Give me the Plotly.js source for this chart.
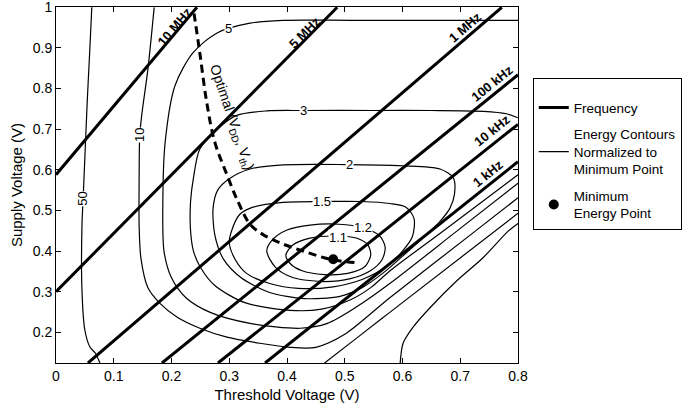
<!DOCTYPE html>
<html>
<head>
<meta charset="utf-8">
<script src="https://cdn.plot.ly/plotly-3.0.1.min.js"></script>
<style>html,body{margin:0;padding:0;background:#fff;}#chart{width:685px;height:408px;}</style>
</head>
<body>
<div id="chart"></div>
<script>
// ---- Axis ticks ----
const xTickVals = [0, 0.1, 0.2, 0.3, 0.4, 0.5, 0.6, 0.7, 0.8];
const xTickText = ["0", "0.1", "0.2", "0.3", "0.4", "0.5", "0.6", "0.7", "0.8"];
const yTickVals = [0.2, 0.3, 0.4, 0.5, 0.6, 0.7, 0.8, 0.9, 1];
const yTickText = ["0.2", "0.3", "0.4", "0.5", "0.6", "0.7", "0.8", "0.9", "1"];

// ---- Constant-frequency lines (Vth, Vdd end points) ----
const freqNames = ["10 MHz", "5 MHz", "1 MHz", "100 kHz", "10 kHz", "1 kHz"];
const freqX = [[0, 0.244], [0, 0.487], [0.0554, 0.772], [0.1835, 0.8], [0.2805, 0.8], [0.362, 0.8]];
const freqY = [[0.588, 1.0], [0.30, 1.0], [0.1244, 1.0], [0.1244, 0.834], [0.1244, 0.712], [0.1244, 0.62]];

// ---- Normalized energy contours ----
const c11X = [0.398, 0.41, 0.44, 0.48, 0.52, 0.54, 0.545, 0.535, 0.505, 0.465, 0.425, 0.405, 0.398];
const c11Y = [0.39, 0.415, 0.432, 0.437, 0.432, 0.415, 0.39, 0.362, 0.345, 0.342, 0.352, 0.37, 0.39];
const c12X = [0.365, 0.375, 0.40, 0.44, 0.49, 0.53, 0.56, 0.57, 0.565, 0.545, 0.51, 0.46, 0.41, 0.38, 0.365];
const c12Y = [0.40, 0.428, 0.452, 0.464, 0.466, 0.458, 0.438, 0.41, 0.38, 0.352, 0.332, 0.325, 0.335, 0.36, 0.40];
const c15X = [0.30, 0.303, 0.318, 0.341, 0.393, 0.46, 0.53, 0.578, 0.606, 0.62, 0.617, 0.60, 0.57, 0.53, 0.48, 0.42, 0.37, 0.33, 0.31, 0.30];
const c15Y = [0.42, 0.445, 0.49, 0.508, 0.52, 0.522, 0.522, 0.517, 0.508, 0.48, 0.435, 0.40, 0.36, 0.33, 0.312, 0.308, 0.32, 0.345, 0.38, 0.42];
const c2X = [0.665, 0.645, 0.61, 0.57, 0.53, 0.49, 0.43, 0.37, 0.32, 0.29, 0.275, 0.272, 0.28, 0.30, 0.336, 0.393, 0.50, 0.60, 0.665, 0.688, 0.69, 0.682, 0.665];
const c2Y = [0.473, 0.445, 0.40, 0.35, 0.31, 0.288, 0.283, 0.298, 0.335, 0.38, 0.44, 0.505, 0.55, 0.578, 0.602, 0.612, 0.613, 0.61, 0.602, 0.58, 0.54, 0.505, 0.473];
const c3X = [0.8, 0.78, 0.74, 0.65, 0.55, 0.428, 0.365, 0.313, 0.279, 0.249, 0.238, 0.233, 0.233, 0.238, 0.25, 0.275, 0.327, 0.405, 0.46, 0.51, 0.545, 0.578, 0.67, 0.8];
const c3Y = [0.728, 0.738, 0.744, 0.746, 0.746, 0.746, 0.745, 0.734, 0.70, 0.651, 0.58, 0.522, 0.45, 0.40, 0.36, 0.315, 0.273, 0.254, 0.257, 0.28, 0.31, 0.351, 0.449, 0.588];
const c5X = [0.8, 0.6, 0.509, 0.393, 0.336, 0.279, 0.237, 0.206, 0.189, 0.185, 0.187, 0.20, 0.225, 0.267, 0.336, 0.423, 0.47, 0.52, 0.578, 0.694, 0.8];
const c5Y = [0.968, 0.968, 0.968, 0.968, 0.961, 0.937, 0.888, 0.807, 0.668, 0.522, 0.40, 0.334, 0.285, 0.249, 0.222, 0.21, 0.222, 0.262, 0.32, 0.449, 0.567];
const c10X = [0.17, 0.159, 0.149, 0.145, 0.144, 0.144, 0.147, 0.159, 0.18, 0.21, 0.249, 0.296, 0.353, 0.405, 0.45, 0.50, 0.578, 0.726, 0.8];
const c10Y = [1.0, 0.846, 0.741, 0.685, 0.588, 0.46, 0.383, 0.31, 0.271, 0.237, 0.21, 0.188, 0.173, 0.163, 0.163, 0.195, 0.285, 0.449, 0.531];
const cExtraX = [0.465, 0.52, 0.578, 0.8];
const cExtraY = [0.1244, 0.185, 0.249, 0.493];
const c50aX = [0.062, 0.058, 0.054, 0.047, 0.045, 0.045, 0.05, 0.059, 0.068, 0.076];
const c50aY = [1.0, 0.88, 0.766, 0.529, 0.466, 0.302, 0.205, 0.163, 0.149, 0.1244];
const c50bX = [0.596, 0.601, 0.618, 0.648, 0.694, 0.739, 0.783, 0.8];
const c50bY = [0.1244, 0.173, 0.212, 0.261, 0.327, 0.383, 0.449, 0.468];

const contourX = [c11X, c12X, c15X, c2X, c3X, c5X, c10X, cExtraX, c50aX, c50bX];
const contourY = [c11Y, c12Y, c15Y, c2Y, c3Y, c5Y, c10Y, cExtraY, c50aY, c50bY];

// contour labels: text, Vth, Vdd
const contourLabelText = ["1.1", "1.2", "1.5", "2", "3", "5", "10", "50"];
const contourLabelX = [0.488, 0.532, 0.46, 0.509, 0.428, 0.298, 0.145, 0.047];
const contourLabelY = [0.434, 0.457, 0.522, 0.612, 0.746, 0.947, 0.685, 0.529];

// ---- Optimal (Vdd, Vth) locus ----
const optX = [0.239, 0.249, 0.261, 0.275, 0.296, 0.315, 0.336, 0.358, 0.388, 0.428, 0.474, 0.521];
const optY = [0.985, 0.888, 0.766, 0.668, 0.588, 0.522, 0.466, 0.441, 0.42, 0.40, 0.38, 0.371];

// ---- Minimum energy point ----
const minX = [0.48];
const minY = [0.38];

const FONT = "Liberation Sans, Arial, Helvetica, sans-serif";
const traces = [];

freqX.forEach((xs, i) => {
  traces.push({
    x: xs, y: freqY[i], type: "scatter", mode: "lines",
    line: {color: "#000", width: 3},
    name: "Frequency", legendrank: 1, legendgroup: "f", showlegend: i === 0, hoverinfo: "skip"
  });
});
contourX.forEach((xs, i) => {
  traces.push({
    x: xs, y: contourY[i], type: "scatter", mode: "lines",
    line: {color: "#000", width: 1.2, shape: "spline", smoothing: 0.8},
    name: "Energy Contours<br>Normalized to<br>Minimum Point", legendrank: 2, legendgroup: "c",
    showlegend: i === 0, hoverinfo: "skip"
  });
});
traces.push({
  x: optX, y: optY, type: "scatter", mode: "lines",
  line: {color: "#000", width: 3, dash: "8px,5px", shape: "spline"},
  showlegend: false, hoverinfo: "skip"
});
traces.push({
  x: minX, y: minY, type: "scatter", mode: "markers",
  marker: {color: "#000", size: 10},
  name: "Minimum<br>Energy Point", legendrank: 3, legendgroup: "m", showlegend: true, hoverinfo: "skip"
});

const annotations = [];
contourLabelText.forEach((t, i) => {
  const vertical = (t === "10" || t === "50");
  annotations.push({
    x: contourLabelX[i], y: contourLabelY[i], xref: "x", yref: "y",
    text: t, showarrow: false, textangle: vertical ? -90 : 0,
    font: {family: FONT, size: 13, color: "#000"},
    bgcolor: "#fff", borderpad: 0
  });
});
const freqLabelPos = [
  [0.206, 0.953, -50], [0.431, 0.937, -45], [0.708, 0.951, -41],
  [0.755, 0.812, -39], [0.755, 0.698, -39], [0.748, 0.590, -39]
];
freqNames.forEach((n, i) => {
  annotations.push({
    x: freqLabelPos[i][0], y: freqLabelPos[i][1], xref: "x", yref: "y",
    text: "<b>" + n + "</b>", showarrow: false, textangle: freqLabelPos[i][2],
    font: {family: FONT, size: 13, color: "#000"}
  });
});
annotations.push({
  x: 0.303, y: 0.729, xref: "x", yref: "y",
  text: "Optimal (V<sub>DD</sub>, V<sub>th</sub>)", showarrow: false, textangle: 71,
  font: {family: FONT, size: 14, color: "#000"}
});

const layout = {
  width: 685, height: 408,
  margin: {l: 56, r: 167, t: 7, b: 45, autoexpand: false},
  paper_bgcolor: "#fff", plot_bgcolor: "#fff",
  font: {family: FONT, size: 14, color: "#000"},
  xaxis: {
    range: [0, 0.8], tickvals: xTickVals, ticktext: xTickText,
    ticks: "inside", ticklen: 5, tickcolor: "#000", mirror: "ticks",
    showline: true, linecolor: "#000", linewidth: 1, showgrid: false, zeroline: false,
    tickfont: {family: FONT, size: 14}, fixedrange: true, ticklabeloverflow: "allow",
    title: {text: "Threshold Voltage (V)", font: {family: FONT, size: 15}, standoff: 6}
  },
  yaxis: {
    range: [0.1244, 1.0008], tickvals: yTickVals, ticktext: yTickText,
    ticks: "inside", ticklen: 5, tickcolor: "#000", mirror: "ticks",
    showline: true, linecolor: "#000", linewidth: 1, showgrid: false, zeroline: false,
    tickfont: {family: FONT, size: 14}, fixedrange: true, ticklabeloverflow: "allow",
    title: {text: "Supply Voltage (V)", font: {family: FONT, size: 15}, standoff: 6}
  },
  legend: {
    x: 1.032, y: 0.80, xanchor: "left", yanchor: "top",
    bordercolor: "#000", borderwidth: 1, bgcolor: "#fff",
    font: {family: FONT, size: 13.5, color: "#000"}, itemwidth: 30,
    tracegroupgap: 6,
    title: {text: " ", font: {family: FONT, size: 10}}
  },
  annotations: annotations,
  showlegend: true
};

Plotly.newPlot("chart", traces, layout, {staticPlot: true, displayModeBar: false});
</script>
</body>
</html>
